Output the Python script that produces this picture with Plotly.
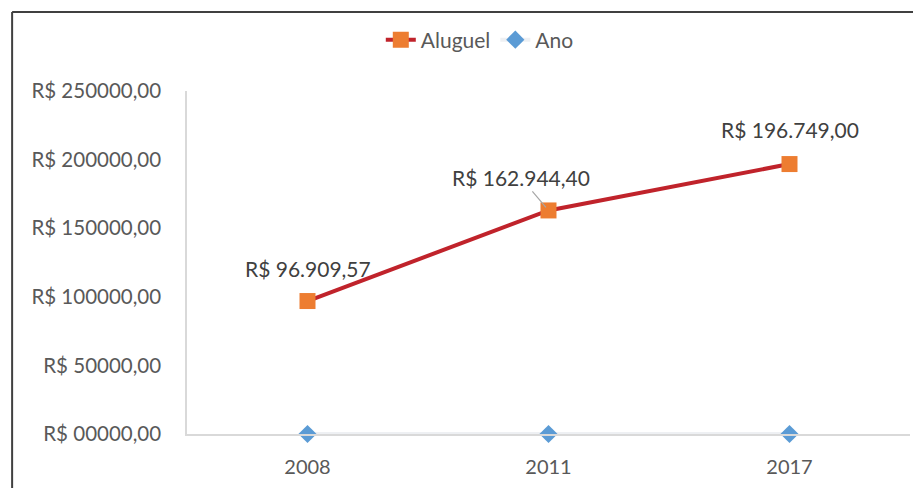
import plotly.graph_objects as go

years = ["2008", "2011", "2017"]
aluguel = [96909.57, 162944.40, 196749.00]
ano = [0, 0, 0]
aluguel_labels = ["R$ 96.909,57", "R$ 162.944,40", "R$ 196.749,00"]
label_dx = [0, -28, 0]
label_dy = [-33, -33, -35]
ytick_vals = [0, 50000, 100000, 150000, 200000, 250000]
ytick_text = ["R$ 00000,00", "R$ 50000,00", "R$ 100000,00", "R$ 150000,00", "R$ 200000,00", "R$ 250000,00"]

W, H = 913, 488
ML, MR, MT, MB = 187, 2.5, 91, 54
PW, PH = W - ML - MR, H - MT - MB
FONT = "Lato"

fig = go.Figure()
fig.add_trace(go.Scatter(
    x=years, y=ano, name="Ano", mode="lines+markers", cliponaxis=False,
    line=dict(color="#EEF0F3", width=4),
    marker=dict(symbol="diamond", size=14, color="#5B9BD5"),
    showlegend=True, legendrank=2,
))
fig.add_trace(go.Scatter(
    x=years, y=aluguel, name="Aluguel", mode="lines+markers", cliponaxis=False,
    line=dict(color="#C0232B", width=4),
    marker=dict(symbol="square", size=16, color="#ED7D31"),
    legendrank=1,
))

for i, (yv, t, dx, dy) in enumerate(zip(aluguel, aluguel_labels, label_dx, label_dy)):
    if dx != 0:
        fig.add_annotation(x=i, y=yv, xref="x", yref="y", text=t, showarrow=True, ax=dx, ay=dy,
                           arrowhead=0, arrowwidth=1.2, arrowcolor="#A6A6A6", standoff=4,
                           font=dict(family=FONT, size=21, color="#404040"))
    else:
        fig.add_annotation(x=i, y=yv, xref="x", yref="y", text=t, showarrow=False, yshift=-dy,
                           font=dict(family=FONT, size=21, color="#404040"))

# outer chart frame (left and top edges)
fx0 = (12 - ML) / PW
fy1 = 1 + (MT - 12) / PH
fig.add_shape(type="line", xref="paper", yref="paper", x0=fx0, x1=fx0, y0=-0.5, y1=fy1,
              line=dict(color="#404040", width=2))
fig.add_shape(type="line", xref="paper", yref="paper", x0=fx0, x1=1.5, y0=fy1, y1=fy1,
              line=dict(color="#404040", width=2))

fig.update_layout(
    width=W, height=H,
    margin=dict(l=ML, r=MR, t=MT, b=MB),
    paper_bgcolor="white", plot_bgcolor="white",
    font=dict(family=FONT, size=20, color="#595959"),
    showlegend=True,
    legend=dict(orientation="h", x=(480 - ML) / PW, y=1 + (MT - 40) / PH,
                xanchor="center", yanchor="middle", font=dict(size=21, color="#595959"),
                itemwidth=30),
    xaxis=dict(type="category", range=[-0.5, 2.5], showgrid=False, zeroline=False,
               showline=True, linecolor="#D9D9D9", linewidth=1.5,
               ticks="", ticklabelstandoff=14,
               tickfont=dict(family=FONT, size=20, color="#595959")),
    yaxis=dict(range=[0, 250000], showgrid=False, zeroline=False,
               showline=True, linecolor="#D9D9D9", linewidth=1.5,
               tickvals=ytick_vals, ticktext=ytick_text, ticks="",
               ticklabelstandoff=20,
               tickfont=dict(family=FONT, size=20.5, color="#595959")),
)

fig.write_html("out.html")
